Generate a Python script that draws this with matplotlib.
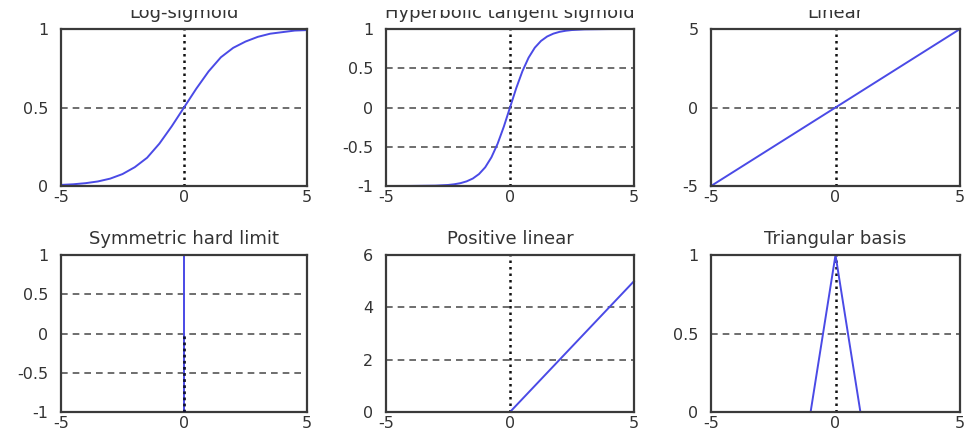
import matplotlib
matplotlib.use("Agg")
import matplotlib.pyplot as plt
from matplotlib.transforms import Bbox, TransformedBbox

# ---------------- data ----------------
x_logsig = [-5, -4.5, -4, -3.5, -3, -2.5, -2, -1.5, -1, -0.5, 0,
            0.5, 1, 1.5, 2, 2.5, 3, 3.5, 4, 4.5, 5]
y_logsig = [0.007, 0.011, 0.018, 0.029, 0.047, 0.076, 0.12, 0.18, 0.27, 0.38, 0.5,
            0.62, 0.73, 0.82, 0.88, 0.92, 0.95, 0.97, 0.98, 0.99, 0.993]

x_tansig = [-5, -4, -3, -2.5, -2.25, -2, -1.75, -1.5, -1.25, -1, -0.75, -0.5, -0.25, 0,
            0.25, 0.5, 0.75, 1, 1.25, 1.5, 1.75, 2, 2.25, 2.5, 3, 4, 5]
y_tansig = [-1.0, -0.999, -0.995, -0.987, -0.978, -0.964, -0.941, -0.905, -0.848, -0.762,
            -0.635, -0.462, -0.245, 0.0,
            0.245, 0.462, 0.635, 0.762, 0.848, 0.905, 0.941, 0.964, 0.978, 0.987,
            0.995, 0.999, 1.0]

x_linear = [-5, 0, 5]
y_linear = [-5, 0, 5]

x_hardlims = [-5, 0, 0, 5]
y_hardlims = [-1, -1, 1, 1]

x_poslin = [-5, 0, 5]
y_poslin = [0, 0, 5]

x_tribas = [-5, -1, 0, 1, 5]
y_tribas = [0, 0, 1, 0, 0]

titles = ["Log-sigmoid", "Hyperbolic tangent sigmoid", "Linear",
          "Symmetric hard limit", "Positive linear", "Triangular basis"]
xticks = [-5, 0, 5]
yticks_list = [[0, 0.5, 1], [-1, -0.5, 0, 0.5, 1], [-5, 0, 5],
               [-1, -0.5, 0, 0.5, 1], [0, 2, 4, 6], [0, 0.5, 1]]
ytick_labels = [["0", "0.5", "1"], ["-1", "-0.5", "0", "0.5", "1"], ["-5", "0", "5"],
                ["-1", "-0.5", "0", "0.5", "1"], ["0", "2", "4", "6"], ["0", "0.5", "1"]]
series = [(x_logsig, y_logsig), (x_tansig, y_tansig), (x_linear, y_linear),
          (x_hardlims, y_hardlims), (x_poslin, y_poslin), (x_tribas, y_tribas)]

# ---------------- layout / style ----------------
W, H = 965, 434
fig = plt.figure(figsize=(W / 100, H / 100), dpi=100)
fig.patch.set_facecolor("white")

col_px = [(61, 307), (386, 634), (711, 960)]
row_px = [(29, 186), (255, 412)]

blue = "#4a4ae6"
spine_col = "#3a3a3a"
grid_col = "#555555"
text_col = "#333333"
plt.rcParams["font.family"] = ["DejaVu Sans"]

for i in range(6):
    r, c = divmod(i, 3)
    x0, x1 = col_px[c]
    y0, y1 = row_px[r]
    ax = fig.add_axes([x0 / W, 1 - y1 / H, (x1 - x0) / W, (y1 - y0) / H])
    yt = yticks_list[i]
    ymin, ymax = yt[0], yt[-1]
    ax.set_xlim(-5, 5)
    ax.set_ylim(ymin, ymax)
    ax.set_xticks(xticks)
    ax.set_xticklabels([str(v) for v in xticks])
    ax.set_yticks(yt)
    ax.set_yticklabels(ytick_labels[i])
    ax.tick_params(length=0, labelsize=11.5, labelcolor=text_col)
    ax.tick_params(axis="y", pad=9)
    ax.tick_params(axis="x", pad=3)
    for s in ax.spines.values():
        s.set_color(spine_col)
        s.set_linewidth(1.6)

    # dashed horizontal grid lines at interior y ticks
    for v in yt[1:-1]:
        ax.axhline(v, color=grid_col, linestyle=(0, (4, 3)), linewidth=1.2, zorder=1)

    xs, ys = series[i]
    if i == 3:
        ax.plot(xs, ys, color=blue, linewidth=1.4, zorder=2, clip_on=False)
        ax.plot([0, 0], [ymin, 0], color="#111133", linestyle=(0, (1, 1.2)),
                linewidth=2.0, zorder=3)
    else:
        ax.axvline(0, color="#111111", linestyle=(0, (1, 1.6)), linewidth=1.8, zorder=1)
        ax.plot(xs, ys, color=blue, linewidth=1.4, zorder=2, clip_on=False)

    t = ax.set_title(titles[i], fontsize=13, color=text_col, pad=8)
    if r == 0:
        clip = TransformedBbox(Bbox([[0, 0], [1, 1 - 10 / H]]), fig.transFigure)
        t.set_clip_box(clip)
        t.set_clip_on(True)

fig.savefig("out.png", dpi=100, facecolor="white")
